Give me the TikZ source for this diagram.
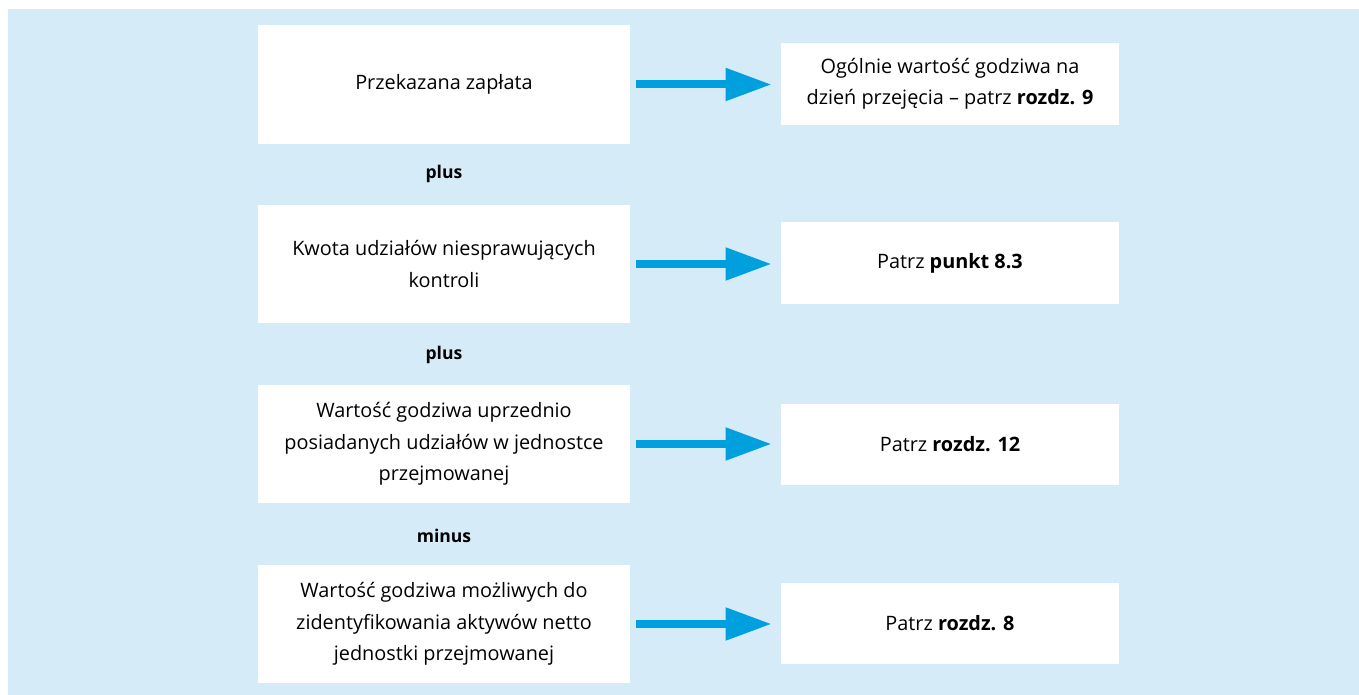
\documentclass[tikz,border=0pt]{standalone}
\usepackage{fontspec}
\setmainfont{Open Sans}
\usepackage{xcolor}
\usetikzlibrary{arrows.meta,positioning}
\definecolor{tlo}{HTML}{D5ECF8}
\definecolor{strzalka}{HTML}{00A0DF}
\tikzset{
  lewy/.style={fill=white, minimum width=7.44cm, minimum height=2.38cm, align=center, inner sep=0pt},
  prawy/.style={fill=white, minimum width=6.76cm, minimum height=1.64cm, align=center, inner sep=0pt},
  slowo/.style={font=\bfseries},
  strz/.style={strzalka, line width=0.16cm, -{Triangle[length=0.92cm,width=0.62cm]}, shorten <=0.12cm, shorten >=0.18cm}
}
\begin{document}
\begin{tikzpicture}[x=0.02cm,y=-0.02cm,font=\fontsize{11.3}{17.8}\selectfont]
                \useasboundingbox (0,0) rectangle (1359,695);
                \fill[tlo] (8,9) rectangle (1359,695);
                % lewa kolumna
                \node[lewy] (l1) at (444,84.5) {Przekazana zapłata};
                \node[lewy] (l2) at (444,264) {Kwota udziałów niesprawujących\\kontroli};
                \node[lewy] (l3) at (444,444) {Wartość godziwa uprzednio\\posiadanych udziałów w jednostce\\przejmowanej};
                \node[lewy] (l4) at (444,624) {Wartość godziwa możliwych do\\zidentyfikowania aktywów netto\\jednostki przejmowanej};
                % prawa kolumna
                \node[prawy] (p1) at (950,84) {Ogólnie wartość godziwa na\\dzień przejęcia – patrz \textbf{rozdz. 9}};
                \node[prawy] (p2) at (950,263) {Patrz \textbf{punkt 8.3}};
                \node[prawy] (p3) at (950,444.5) {Patrz \textbf{rozdz. 12}};
                \node[prawy] (p4) at (950,623.5) {Patrz \textbf{rozdz. 8}};
                % plus / minus
                \node[slowo] (s1) at (444,174) {plus};
                \node[slowo] (s2) at (444,355) {plus};
                \node[slowo] (s3) at (444,536) {minus};
                % strzalki
                \draw[strz] (l1.east) -- (l1.east -| p1.west);
                \draw[strz] (l2.east) -- (l2.east -| p2.west);
                \draw[strz] (l3.east) -- (l3.east -| p3.west);
                \draw[strz] (l4.east) -- (l4.east -| p4.west);
\end{tikzpicture}
\end{document}
